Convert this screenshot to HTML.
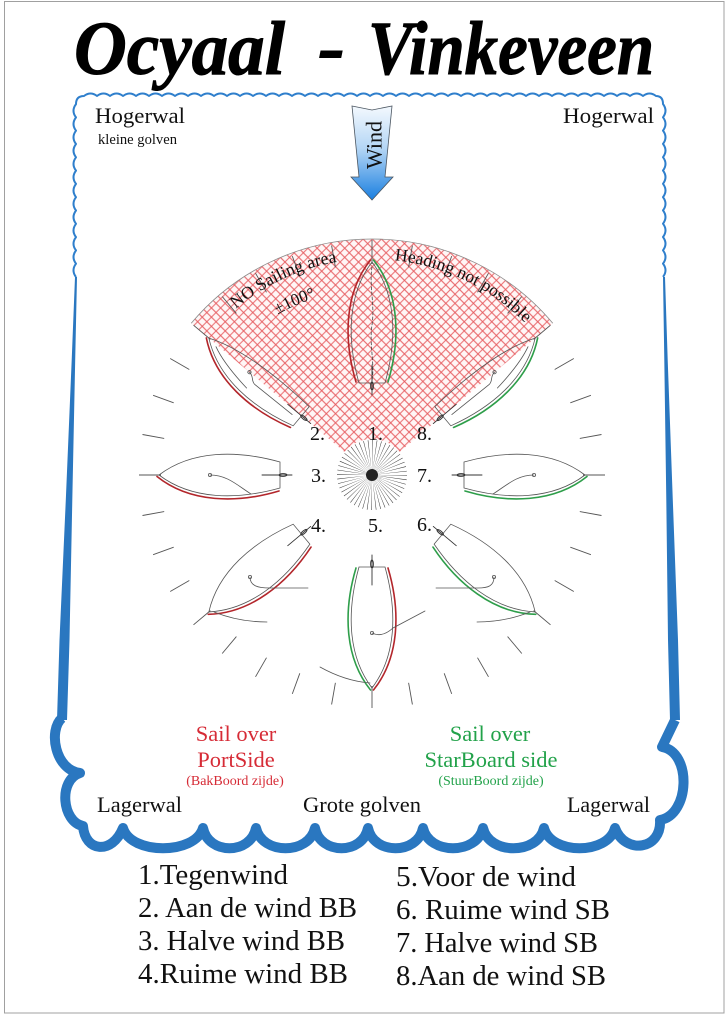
<!DOCTYPE html>
<html><head><meta charset="utf-8">
<style>html,body{margin:0;padding:0;background:#fff}svg{display:block}</style>
</head><body>
<svg width="727" height="1019" viewBox="0 0 727 1019" xmlns="http://www.w3.org/2000/svg" xmlns:xlink="http://www.w3.org/1999/xlink" font-family="'Liberation Serif', serif">
<defs>
  <pattern id="hatch" width="6.5" height="6.5" patternUnits="userSpaceOnUse" patternTransform="rotate(45)">
    <path d="M0,3.25H6.5M3.25,0V6.5" stroke="#e65a5e" stroke-width="0.9" fill="none"/>
  </pattern>
  <linearGradient id="wg" x1="0" y1="0" x2="0" y2="1">
    <stop offset="0" stop-color="#f4f9fe"/>
    <stop offset="0.45" stop-color="#b4d6f5"/>
    <stop offset="1" stop-color="#1a7fe0"/>
  </linearGradient>
  <path id="hull" d="M-13,-92 C-25,-135 -25,-180 0,-213 C25,-180 25,-135 13,-92 Z"/>
  <path id="hullS" d="M-12,-92 C-15,-140 -12,-185 0,-213 C25,-180 25,-135 13,-92 Z"/>
  <path id="sL" d="M-16,-93 C-28.5,-135 -28,-182 -1.5,-215"/>
  <path id="sR" d="M16,-93 C28.5,-135 28,-182 1.5,-215"/>
  <g id="rud"><path d="M0,-80V-110"/><ellipse cx="0" cy="-89" rx="1.4" ry="4"/></g>
  <path id="arcNO" d="M231.8,312.3 A216,216 0 0 1 342.1,261.1"/>
  <path id="arc100" d="M266,321.8 A186,186 0 0 1 329,294.5"/>
  <path id="arcHD" d="M389.7,259.8 A216,216 0 0 1 528.7,326.6"/>
</defs>

<rect x="0" y="0" width="727" height="1019" fill="#fff"/>
<rect x="4.5" y="1.5" width="719.5" height="1011.5" fill="none" stroke="#a0a0a0" stroke-width="1"/>

<!-- Title -->
<g font-weight="bold" font-style="italic" fill="#000" stroke="#000" stroke-width="1" font-size="76">
  <text x="74" y="74" textLength="211" lengthAdjust="spacingAndGlyphs">Ocyaal</text>
  <text x="318" y="72" textLength="27" lengthAdjust="spacingAndGlyphs">-</text>
  <text x="368" y="74" textLength="286" lengthAdjust="spacingAndGlyphs">Vinkeveen</text>
</g>

<!-- Blue border: thin wavy top part -->
<path fill="none" stroke="#2f7fcc" stroke-width="2" stroke-linejoin="round"
 d="M76,277 q-5,-6.65 0,-13.3 q-5,-6.65 0,-13.3 q-5,-6.65 0,-13.3 q-5,-6.65 0,-13.3 q-5,-6.65 0,-13.3 q-5,-6.65 0,-13.3 q-5,-6.65 0,-13.3 q-5,-6.65 0,-13.3 q-5,-6.65 0,-13.3 q-5,-6.65 0,-13.3 q-5,-6.65 0,-13.3 q-5,-6.65 0,-13.3 q-5,-6.65 0,-13.3
 Q76,96 84,96
 q6.5,-5 13,0 q6.5,-5 13,0 q6.5,-5 13,0 q6.5,-5 13,0 q6.5,-5 13,0 q6.5,-5 13,0 q6.5,-5 13,0 q6.5,-5 13,0 q6.5,-5 13,0 q6.5,-5 13,0 q6.5,-5 13,0
 q6.5,-5 13,0 q6.5,-5 13,0 q6.5,-5 13,0 q6.5,-5 13,0 q6.5,-5 13,0 q6.5,-5 13,0 q6.5,-5 13,0 q6.5,-5 13,0 q6.5,-5 13,0 q6.5,-5 13,0 q6.5,-5 13,0
 q6.5,-5 13,0 q6.5,-5 13,0 q6.5,-5 13,0 q6.5,-5 13,0 q6.5,-5 13,0 q6.5,-5 13,0 q6.5,-5 13,0 q6.5,-5 13,0 q6.5,-5 13,0 q6.5,-5 13,0 q6.5,-5 13,0
 q6.5,-5 13,0 q6.5,-5 13,0 q6.5,-5 13,0 q6.5,-5 13,0 q6.5,-5 13,0 q6.5,-5 13,0 q6.5,-5 13,0 q6.5,-5 13,0 q6.5,-5 13,0 q6.5,-5 13,0 q6.5,-5 13,0
 Q663,96 663,104
 q5,6.65 0,13.3 q5,6.65 0,13.3 q5,6.65 0,13.3 q5,6.65 0,13.3 q5,6.65 0,13.3 q5,6.65 0,13.3 q5,6.65 0,13.3 q5,6.65 0,13.3 q5,6.65 0,13.3 q5,6.65 0,13.3 q5,6.65 0,13.3 q5,6.65 0,13.3 q5,6.65 0,13.3"/>

<!-- tapered straight sides -->
<polygon fill="#2a77c0" points="75,277 71.7,360 65.8,500 59.5,640 57,720 67,720 69.5,640 72.3,500 75.2,360 77,277"/>
<polygon fill="#2a77c0" points="663,277 664.3,360 666.3,500 668,640 670,720 680,720 678,640 672.8,500 667.7,360 665,277"/>

<!-- thick scalloped bottom -->
<path fill="none" stroke="#2a77c0" stroke-width="10" stroke-linejoin="round"
 d="M62,718 C48,730 55,770 80,773 C58,780 62,822 83,826 C85,852 112,855 123,828
 C131,855 195,855 203,828 C208.3,855 250.7,855 256,828 C261.9,855 309.1,855 315,828
 C320.3,855 362.7,855 368,828 C373.5,855 417.5,855 423,828 C429,855 477,855 483,828
 C489,855 538,855 544,828 C551,855 608,855 615,828 C625,855 662,850 660,820
 C690,815 692,752 662,747 L675,720"/>

<!-- Wind arrow -->
<polygon points="352,106 372,110 392,106 385,177 393,177 372,200 351,177 359,177" fill="url(#wg)" stroke="#4a5560" stroke-width="0.8"/>
<text transform="translate(374,145) rotate(-90)" text-anchor="middle" dominant-baseline="central" font-size="22" fill="#111">Wind</text>

<!-- Corner texts -->
<g fill="#111">
  <text x="95" y="123" font-size="22.5" textLength="90" lengthAdjust="spacingAndGlyphs">Hogerwal</text>
  <text x="98" y="144" font-size="14.5" textLength="79" lengthAdjust="spacingAndGlyphs">kleine golven</text>
  <text x="563" y="123" font-size="22.5" textLength="91" lengthAdjust="spacingAndGlyphs">Hogerwal</text>
  <text x="97" y="812" font-size="22.5" textLength="85" lengthAdjust="spacingAndGlyphs">Lagerwal</text>
  <text x="303" y="812" font-size="22.5" textLength="118" lengthAdjust="spacingAndGlyphs">Grote golven</text>
  <text x="567" y="812" font-size="22.5" textLength="83" lengthAdjust="spacingAndGlyphs">Lagerwal</text>
</g>

<!-- Sector (no sailing area) -->
<path d="M344.4,451.9 L191.2,323.3 A236,236 0 0 1 552.8,323.3 L399.6,451.9 A36,36 0 0 0 344.4,451.9 Z" fill="#fff6f6"/>
<path d="M344.4,451.9 L191.2,323.3 A236,236 0 0 1 552.8,323.3 L399.6,451.9 A36,36 0 0 0 344.4,451.9 Z" fill="url(#hatch)"/>
<path d="M191.2,323.3 A236,236 0 0 1 552.8,323.3" fill="none" stroke="#8a8a8a" stroke-width="0.8"/>

<!-- Ticks -->
<path fill="none" stroke="#555" stroke-width="0.9" d="M372,264L372,240 M408.6,267.2L412.4,245.5 M444.2,276.7L451.7,256.1 M477.5,292.3L488.5,273.2 M507.6,313.4L521.8,296.5 M533.6,339.4L550.5,325.2 M554.7,369.5L573.8,358.5 M570.3,402.8L590.9,395.3 M579.8,438.4L601.5,434.5 M583,475L605,475 M579.8,511.6L601.5,515.5 M570.3,547.2L590.9,554.7 M554.7,580.5L573.8,591.5 M533.6,610.6L550.5,624.8 M507.6,636.6L521.8,653.5 M477.5,657.7L488.5,676.8 M444.2,673.3L451.7,693.9 M408.6,682.8L412.4,704.5 M372,686L372,708 M335.4,682.8L331.6,704.5 M299.8,673.3L292.3,693.9 M266.5,657.7L255.5,676.8 M236.4,636.6L222.2,653.5 M210.4,610.6L193.5,624.8 M189.3,580.5L170.2,591.5 M173.7,547.2L153.1,554.7 M164.2,511.6L142.5,515.5 M161,475L139,475 M164.2,438.4L142.5,434.5 M173.7,402.8L153.1,395.3 M189.3,369.5L170.2,358.5 M210.4,339.4L193.5,325.2 M236.4,313.4L222.2,296.5 M266.5,292.3L255.5,273.2 M299.8,276.7L292.3,256.1 M335.4,267.2L331.6,245.5"/>

<!-- Sector labels -->
<g fill="#111" font-size="17.5">
  <text><textPath xlink:href="#arcNO" href="#arcNO" startOffset="50%" text-anchor="middle">NO Sailing area</textPath></text>
  <text font-size="17"><textPath xlink:href="#arc100" href="#arc100" startOffset="50%" text-anchor="middle">±100°</textPath></text>
  <text><textPath xlink:href="#arcHD" href="#arcHD" startOffset="50%" text-anchor="middle">Heading not possible</textPath></text>
</g>

<!-- Boats -->
<g fill="none" stroke-linecap="round">
  <!-- 1 -->
  <g transform="translate(372,475)">
    <use xlink:href="#hull" href="#hull" stroke="#555" stroke-width="0.8"/>
    <use xlink:href="#sL" href="#sL" stroke="#b3262b" stroke-width="1.6"/>
    <use xlink:href="#sR" href="#sR" stroke="#2e9e4a" stroke-width="1.6"/>
    <use xlink:href="#rud" href="#rud" stroke="#333" stroke-width="0.9"/>
    <path d="M0,-208 C-3,-190 3,-170 0,-150 C-3,-130 3,-112 0,-94" stroke="#444" stroke-width="0.8" stroke-dasharray="3 2"/>
  </g>
  <!-- 8 -->
  <g transform="translate(372,475) rotate(50)">
    <use xlink:href="#hullS" href="#hullS" stroke="#555" stroke-width="0.8"/>
    <use xlink:href="#sR" href="#sR" stroke="#2e9e4a" stroke-width="1.6"/>
    <use xlink:href="#rud" href="#rud" stroke="#333" stroke-width="0.9"/>
    <path d="M0,-160 C0,-154 6,-153 6,-148 L5,-100 M14,-152 Q10,-185 2,-202" stroke="#555" stroke-width="0.8"/>
    <circle cx="0" cy="-160" r="1.6" stroke="#555" stroke-width="0.8"/>
  </g>
  <!-- 2 -->
  <g transform="translate(372,475) rotate(310)">
    <use xlink:href="#hullS" href="#hullS" transform="scale(-1,1)" stroke="#555" stroke-width="0.8"/>
    <use xlink:href="#sL" href="#sL" stroke="#b3262b" stroke-width="1.6"/>
    <use xlink:href="#rud" href="#rud" stroke="#333" stroke-width="0.9"/>
    <path d="M0,-160 C0,-154 -6,-153 -6,-148 L-5,-100 M-14,-152 Q-10,-185 -2,-202" stroke="#555" stroke-width="0.8"/>
    <circle cx="0" cy="-160" r="1.6" stroke="#555" stroke-width="0.8"/>
  </g>
  <!-- 7 -->
  <g transform="translate(372,475) rotate(90)">
    <use xlink:href="#hull" href="#hull" stroke="#555" stroke-width="0.8"/>
    <use xlink:href="#sR" href="#sR" stroke="#2e9e4a" stroke-width="1.6"/>
    <use xlink:href="#rud" href="#rud" stroke="#333" stroke-width="0.9"/>
    <path d="M0,-162 C0,-145 10,-135 19,-121" stroke="#555" stroke-width="0.8"/>
    <circle cx="0" cy="-162" r="1.6" stroke="#555" stroke-width="0.8"/>
  </g>
  <!-- 3 -->
  <g transform="translate(372,475) rotate(270)">
    <use xlink:href="#hull" href="#hull" stroke="#555" stroke-width="0.8"/>
    <use xlink:href="#sL" href="#sL" stroke="#b3262b" stroke-width="1.6"/>
    <use xlink:href="#rud" href="#rud" stroke="#333" stroke-width="0.9"/>
    <path d="M0,-162 C0,-145 -10,-135 -19,-121" stroke="#555" stroke-width="0.8"/>
    <circle cx="0" cy="-162" r="1.6" stroke="#555" stroke-width="0.8"/>
  </g>
  <!-- 6 -->
  <g transform="translate(372,475) rotate(130)">
    <use xlink:href="#hull" href="#hull" stroke="#555" stroke-width="0.8"/>
    <use xlink:href="#sR" href="#sR" stroke="#2e9e4a" stroke-width="1.6"/>
    <use xlink:href="#rud" href="#rud" stroke="#333" stroke-width="0.9"/>
  </g>
  <path d="M494,577 C494,586 488,588 478,588 L436,588 M477,622 Q505,622 530,612" stroke="#555" stroke-width="0.8"/>
  <circle cx="494" cy="577" r="1.6" stroke="#555" stroke-width="0.8"/>
  <!-- 4 -->
  <g transform="translate(372,475) rotate(230)">
    <use xlink:href="#hull" href="#hull" stroke="#555" stroke-width="0.8"/>
    <use xlink:href="#sL" href="#sL" stroke="#b3262b" stroke-width="1.6"/>
    <use xlink:href="#rud" href="#rud" stroke="#333" stroke-width="0.9"/>
  </g>
  <path d="M250,577 C250,586 258,588 270,588 L308,588 M267,622 Q239,622 214,612" stroke="#555" stroke-width="0.8"/>
  <circle cx="250" cy="577" r="1.6" stroke="#555" stroke-width="0.8"/>
  <!-- 5 -->
  <g transform="translate(372,475) rotate(180)">
    <use xlink:href="#hull" href="#hull" stroke="#555" stroke-width="0.8"/>
    <use xlink:href="#sL" href="#sL" stroke="#b3262b" stroke-width="1.6"/>
    <use xlink:href="#sR" href="#sR" stroke="#2e9e4a" stroke-width="1.6"/>
    <use xlink:href="#rud" href="#rud" stroke="#333" stroke-width="0.9"/>
  </g>
  <path d="M372,633 Q382,638 393,628 L425,611 M320,667 Q345,681 370,683" stroke="#555" stroke-width="0.8"/>
  <circle cx="372" cy="633" r="1.6" stroke="#555" stroke-width="0.8"/>
</g>

<!-- Starburst -->
<circle cx="372" cy="475" r="19" fill="none" stroke="#333" stroke-width="32" stroke-dasharray="0.3 2.187"/>
<circle cx="372" cy="475" r="6" fill="#222"/>

<!-- Position numbers -->
<g fill="#111" font-size="20">
  <text x="310" y="440">2.</text>
  <text x="368" y="440">1.</text>
  <text x="417" y="440">8.</text>
  <text x="311" y="482">3.</text>
  <text x="417" y="482">7.</text>
  <text x="311" y="532">4.</text>
  <text x="368" y="532">5.</text>
  <text x="417" y="531">6.</text>
</g>

<!-- Sail side labels -->
<g text-anchor="middle">
  <g fill="#d62b36">
    <text x="236" y="741" font-size="22.5">Sail over</text>
    <text x="236" y="767" font-size="22.5">PortSide</text>
    <text x="235" y="785" font-size="14">(BakBoord zijde)</text>
  </g>
  <g fill="#22a24a">
    <text x="490" y="741" font-size="22.5">Sail over</text>
    <text x="491" y="767" font-size="22.5">StarBoard side</text>
    <text x="491" y="785" font-size="14">(StuurBoord zijde)</text>
  </g>
</g>

<!-- Legend list -->
<g fill="#111" font-size="28">
  <text x="138" y="884" textLength="150" lengthAdjust="spacingAndGlyphs">1.Tegenwind</text>
  <text x="138" y="917" textLength="219" lengthAdjust="spacingAndGlyphs">2. Aan de wind BB</text>
  <text x="138" y="950" textLength="207" lengthAdjust="spacingAndGlyphs">3. Halve wind BB</text>
  <text x="138" y="983" textLength="210" lengthAdjust="spacingAndGlyphs">4.Ruime wind BB</text>
  <text x="396" y="886" textLength="180" lengthAdjust="spacingAndGlyphs">5.Voor de wind</text>
  <text x="396" y="919" textLength="214" lengthAdjust="spacingAndGlyphs">6. Ruime wind SB</text>
  <text x="396" y="952" textLength="202" lengthAdjust="spacingAndGlyphs">7. Halve wind SB</text>
  <text x="396" y="985" textLength="210" lengthAdjust="spacingAndGlyphs">8.Aan de wind SB</text>
</g>
</svg>
</body></html>
